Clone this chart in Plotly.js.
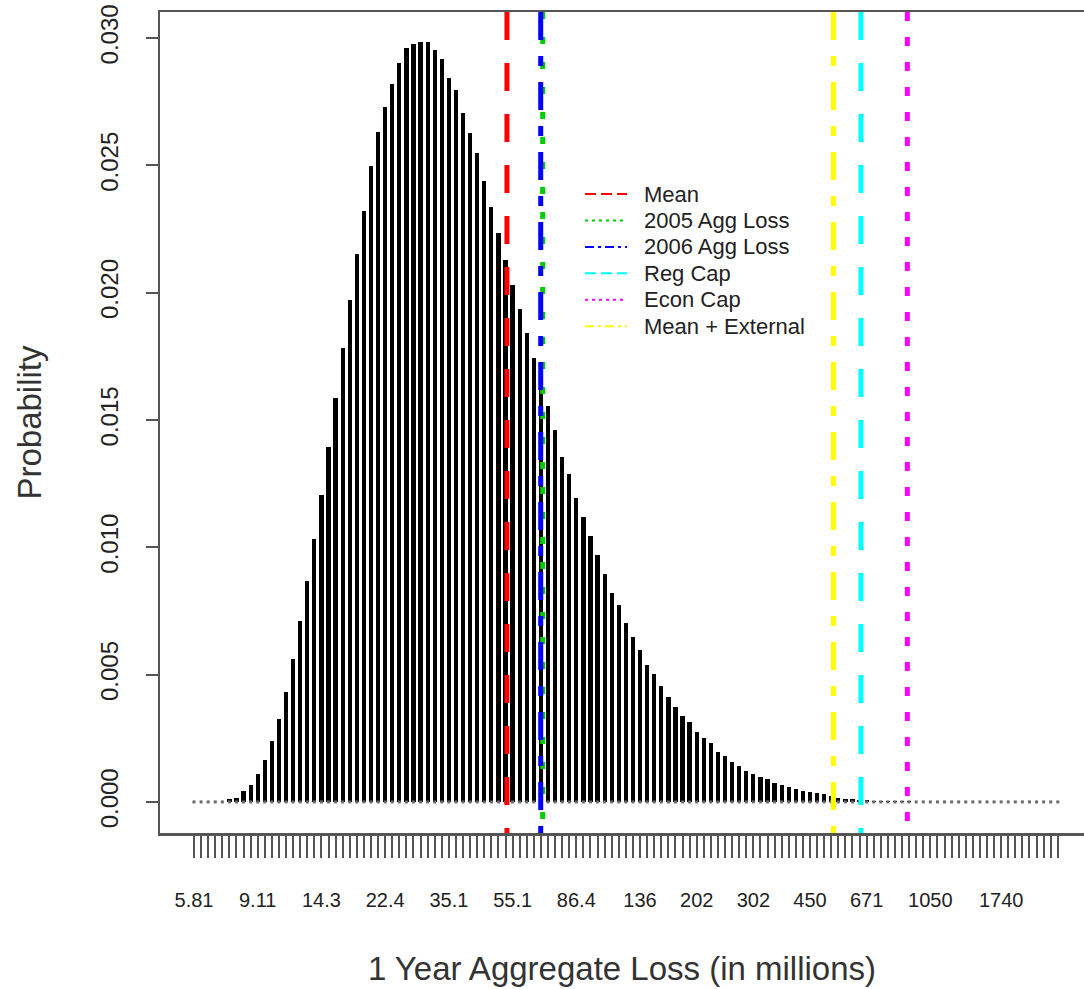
<!DOCTYPE html>
<html>
<head>
<meta charset="utf-8">
<script src="https://cdn.plot.ly/plotly-3.0.1.min.js"></script>
<style>html,body{margin:0;padding:0;background:#fff;}#chart{width:1084px;height:989px;}</style>
</head>
<body>
<div id="chart"></div>
<script>
// Probability of each loss bucket (bars are equally spaced buckets on a log loss scale)
const probabilities = [
  0, 0, 0, 0, 0,
  0.00011, 0.00016, 0.00043, 0.00067, 0.0011, 0.00164, 0.0024, 0.00325, 0.00431, 0.00563, 0.00712,
  0.00867, 0.01032, 0.01207, 0.01392, 0.01587, 0.01782, 0.01972, 0.02152, 0.02322, 0.02499,
  0.0263, 0.02728, 0.02818, 0.02903, 0.02959, 0.02977, 0.02985, 0.02985, 0.02953, 0.02919, 0.02844, 0.02796,
  0.02704, 0.02628, 0.02547, 0.02438, 0.02338, 0.02233, 0.0213, 0.0203, 0.01935, 0.0184,
  0.01745, 0.0165, 0.01555, 0.0146,
  0.01354, 0.01288, 0.01195, 0.0112, 0.01046, 0.0097, 0.00895, 0.0082,
  0.00774, 0.00704, 0.00647, 0.00597, 0.00538, 0.00503, 0.00455, 0.00413, 0.00372, 0.00339,
  0.00313, 0.00274, 0.0025, 0.0023, 0.00198, 0.00182, 0.00158, 0.00143, 0.00123, 0.00109,
  0.00099, 0.00089, 0.00076, 0.00065, 0.00058, 0.00052, 0.00043, 0.0004, 0.00034, 0.0003,
  0.00022, 0.000145, 0.00013, 0.00012, 0.00008, 0.00007, 0.00005, 0.00005, 0.00005, 0.00004, 0.00004, 0.00003,
  0, 0, 0, 0, 0, 0, 0, 0, 0, 0, 0, 0, 0, 0, 0, 0, 0, 0, 0, 0, 0
];
const bucketIndex = probabilities.map((_, i) => i);

// Bucket labels that are printed under the axis (bucket index -> loss in millions)
const labelBuckets = [0, 9, 18, 27, 36, 45, 54, 63, 71, 79, 87, 95, 104, 114];
const labelTexts = ["5.81", "9.11", "14.3", "22.4", "35.1", "55.1", "86.4", "136", "202", "302", "450", "671", "1050", "1740"];

// Reference lines (position expressed in bucket units)
const refNames = ["Mean", "2005 Agg Loss", "2006 Agg Loss", "Reg Cap", "Econ Cap", "Mean + External"];
const refBuckets = [44.2, 49.25, 48.97, 94.2, 100.75, 90.3];
const refColors = ["#ff0000", "#00cd00", "#0000ff", "#00ffff", "#ff00ff", "#ffff00"];
const refDashPlot = ["28px,23px", "7px,18px", "28px,16px,10px,16px", "28px,23px", "9px,16px", "28px,16px,10px,16px"];
const refDashLegend = ["11px,5px", "3px,4px", "9px,4px,3px,4px", "11px,5px", "3px,4px", "9px,4px,3px,4px"];

const yTicks = [0, 0.005, 0.010, 0.015, 0.020, 0.025, 0.030];

const FONT = "Liberation Sans, Arial, sans-serif";

const tickText = bucketIndex.map(i => {
  const k = labelBuckets.indexOf(i);
  return k >= 0 ? labelTexts[k] : "";
});

const traces = [];
// zero-level markers (R draws empty buckets as tiny grey stubs)
traces.push({
  type: "scatter", mode: "markers", x: bucketIndex, y: probabilities.map(() => 0),
  marker: {symbol: "square", size: 3, color: "#6a6a6a", line: {width: 0}},
  showlegend: false, hoverinfo: "skip", cliponaxis: false
});
traces.push({
  type: "bar", x: bucketIndex, y: probabilities, width: 0.6,
  marker: {color: "#000000", line: {width: 0}},
  showlegend: false, hoverinfo: "skip"
});

// vertical reference lines
const shapes = refNames.map((n, i) => ({
  type: "line", xref: "x", yref: "paper",
  x0: refBuckets[i], x1: refBuckets[i], y0: 1, y1: 0,
  line: {color: refColors[i], width: 5, dash: refDashPlot[i]},
  layer: "above"
}));

// legend box (inside the plot, R style): samples + labels
const legendLeft = 0.4600, legendSampleRight = 0.5054, legendTextX = 0.5216;
const legendTop = 0.7783, legendStep = 0.0322;
const annotations = [];
refNames.forEach((n, i) => {
  const yy = legendTop - i * legendStep;
  shapes.push({
    type: "line", xref: "paper", yref: "paper",
    x0: legendLeft, x1: legendSampleRight, y0: yy, y1: yy,
    line: {color: refColors[i], width: 2, dash: refDashLegend[i]},
    layer: "above"
  });
  annotations.push({
    xref: "paper", yref: "paper", x: legendTextX, y: yy,
    xanchor: "left", yanchor: "middle", showarrow: false, text: n,
    font: {family: FONT, size: 22, color: "#222"}
  });
});

const layout = {
  width: 1084, height: 989,
  margin: {l: 160, r: 0, t: 12, b: 156},
  paper_bgcolor: "#ffffff", plot_bgcolor: "#ffffff",
  font: {family: FONT, color: "#222"},
  showlegend: false,
  bargap: 0,
  xaxis: {
    range: [-4.8, 125.7], fixedrange: true,
    showgrid: false, zeroline: false,
    showline: true, mirror: true, linecolor: "#555", linewidth: 2.5,
    tickmode: "array", tickvals: bucketIndex, ticktext: tickText,
    ticks: "outside", ticklen: 22, tickwidth: 2, tickcolor: "#555",
    tickangle: 0, ticklabelstandoff: 25,
    tickfont: {family: FONT, size: 20, color: "#222"},
    automargin: true,
    title: {text: "1 Year Aggregate Loss (in millions)", standoff: 48,
            font: {family: FONT, size: 33, color: "#333"}}
  },
  yaxis: {
    range: [-0.00122, 0.03102], fixedrange: true,
    showgrid: false, zeroline: false,
    showline: true, mirror: false, linecolor: "#555", linewidth: 2.5,
    tickmode: "array", tickvals: yTicks, ticktext: yTicks.map(v => v.toFixed(3)),
    ticks: "outside", ticklen: 12, tickwidth: 2, tickcolor: "#555",
    tickangle: -90, ticklabelstandoff: 18,
    tickfont: {family: FONT, size: 24, color: "#222"},
    automargin: true,
    title: {text: "Probability", standoff: 45,
            font: {family: FONT, size: 33, color: "#333"}}
  },
  shapes: shapes,
  annotations: annotations,
  hovermode: false
};

Plotly.newPlot("chart", traces, layout, {displayModeBar: false, staticPlot: true});
</script>
</body>
</html>
